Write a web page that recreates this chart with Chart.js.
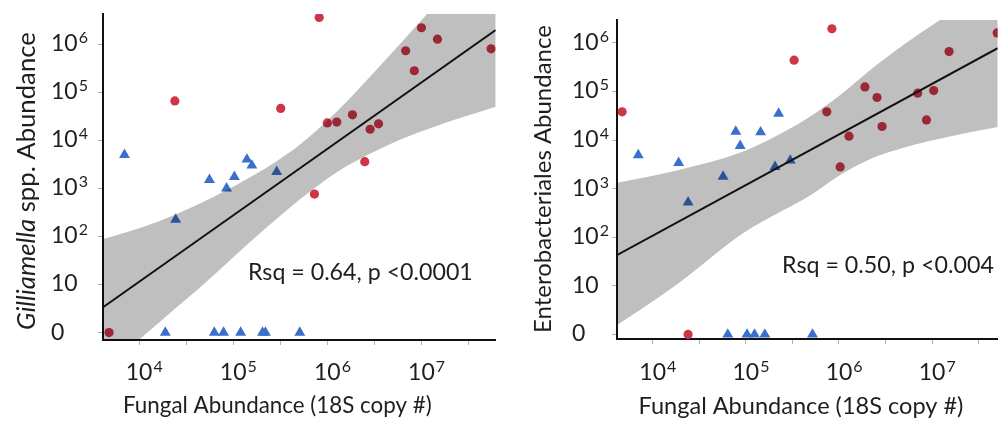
<!DOCTYPE html>
<html>
<head>
<meta charset="utf-8">
<script src="https://cdn.jsdelivr.net/npm/chart.js@4.4.1/dist/chart.umd.min.js"></script>
<style>
  body { margin: 0; background: #fff; }
  .panel { position: absolute; top: 0; width: 502px; height: 421px; }
</style>
</head>
<body>
<div class="panel" style="left:0"><canvas id="chartGilliamella" width="502" height="421"></canvas></div>
<div class="panel" style="left:502px"><canvas id="chartEntero" width="502" height="421"></canvas></div>
<script>
// Fungal abundance vs bacterial abundance, two log-log panels

// ticks shared by both panels
const xTickValues = [1e4, 3.162e4, 1e5, 3.162e5, 1e6, 3.162e6, 1e7, 3.162e7];
const xTickLabels = ['10^4', '', '10^5', '', '10^6', '', '10^7', ''];
const yTickValues = [1, 10, 100, 1e3, 1e4, 1e5, 1e6];
const yTickLabels = ['0', '10', '10^2', '10^3', '10^4', '10^5', '10^6'];

// left panel - Gilliamella
const gilRedX  = [4.8e3, 2.4e4, 3.2e5, 7.3e5, 8.2e5, 1.0e6, 1.26e6, 1.85e6, 2.5e6, 2.85e6, 3.5e6, 6.8e6, 8.4e6, 1.0e7, 1.48e7, 5.5e7];
const gilRedY  = [0, 6.6e4, 4.6e4, 760, 3.6e6, 2.3e4, 2.4e4, 3.4e4, 3.6e3, 1.7e4, 2.2e4, 7.3e5, 2.8e5, 2.2e6, 1.27e6, 8.0e5];
const gilBlueX = [7.0e3, 2.45e4, 5.6e4, 8.5e4, 1.03e5, 1.4e5, 1.58e5, 2.9e5, 1.9e4, 6.3e4, 7.9e4, 1.2e5, 2.05e5, 2.2e5, 5.1e5];
const gilBlueY = [5.0e3, 225, 1.5e3, 1.0e3, 1.74e3, 4.0e3, 3.0e3, 2.2e3, 0, 0, 0, 0, 0, 0, 0];
const gilFitX  = [4.11e3, 6.15e7];
const gilFitY  = [3.33, 1.98e6];
const gilBandX  = [4.11e3, 1.02e4, 2.44e4, 4.38e4, 8.43e4, 1.48e5, 2.92e5, 4.98e5, 1.32e6, 3.48e6, 9.2e6, 2.43e7, 6.18e7];
const gilBandHi = [87, 149, 286, 479, 914, 1.67e3, 3.72e3, 7.76e3, 4.33e4, 3.22e5, 2.64e6, 2.16e7, 1.6e8];
const gilBandLo = [0.167, 0.733, 3.2, 8.5, 27, 74, 235, 565, 2.3e3, 6.4e3, 1.45e4, 2.82e4, 5.0e4];

// right panel - Enterobacteriales
const entRedX  = [4.7e3, 2.4e4, 3.3e5, 7.4e5, 8.4e5, 1.03e6, 1.28e6, 1.9e6, 2.56e6, 2.9e6, 7.0e6, 8.7e6, 1.04e7, 1.52e7, 5.0e7];
const entRedY  = [3.8e4, 0, 4.4e5, 3.8e4, 1.95e6, 2.8e3, 1.2e4, 1.24e5, 7.5e4, 1.9e4, 9.2e4, 2.6e4, 1.04e5, 6.6e5, 1.6e6];
const entBlueX = [7.0e3, 1.9e4, 2.4e4, 5.7e4, 7.8e4, 8.7e4, 1.44e5, 2.06e5, 2.25e5, 3.0e5, 6.4e4, 1.03e5, 1.24e5, 1.6e5, 5.2e5];
const entBlueY = [4.9e3, 3.4e3, 525, 1.77e3, 1.5e4, 7.6e3, 1.45e4, 2.8e3, 3.5e4, 3.8e3, 0, 0, 0, 0, 0];
const entFitX  = [4.17e3, 5.06e7];
const entFitY  = [43.3, 7.76e5];
const entBandX  = [4.17e3, 1.91e4, 9.08e4, 2.02e5, 4.62e5, 1.03e6, 2.30e6, 5.26e6, 1.17e7, 2.62e7, 5.1e7];
const entBandHi = [1.33e3, 2.43e3, 5.69e3, 1.16e4, 2.85e4, 8.47e4, 3.05e5, 9.95e5, 2.82e6, 7.28e6, 1.55e7];
const entBandLo = [1.57, 11.5, 117, 288, 675, 1.91e3, 4.29e3, 7.21e3, 1.05e4, 1.47e4, 1.86e4];

const FONT = 'Lato, "Open Sans", sans-serif';
const INK = '#1e1e1e';
const ZERO_AT = 1; // zero counts sit on the 10^0 line, labelled "0"

function toPts(xs, ys, zeroMap) {
  return xs.map((x, i) => ({ x, y: (zeroMap && ys[i] === 0) ? ZERO_AT : ys[i] }));
}

// "10^5" -> "10" + small raised exponent
function drawPow(ctx, text, x, y, centerBase) {
  const parts = text.split('^');
  ctx.font = `23px ${FONT}`;
  const wb = ctx.measureText(parts[0]).width;
  const x0 = centerBase ? x - wb / 2 : x;
  ctx.textAlign = 'left';
  ctx.textBaseline = 'alphabetic';
  ctx.fillText(parts[0], x0, y);
  if (parts[1]) {
    ctx.font = `16px ${FONT}`;
    ctx.fillText(parts[1], x0 + wb + 1, y - 8);
  }
}

// text runs [[str, italic]] drawn so their total width = target
function drawRuns(ctx, runs, cx, cy, target) {
  const widthAt = size => runs.reduce((w, [s, it]) => {
    ctx.font = `${it ? 'italic ' : ''}${size}px ${FONT}`;
    return w + ctx.measureText(s).width;
  }, 0);
  const size = 22 * target / widthAt(22);
  let x = cx - target / 2;
  ctx.textAlign = 'left';
  ctx.textBaseline = 'middle';
  runs.forEach(([s, it]) => {
    ctx.font = `${it ? 'italic ' : ''}${size}px ${FONT}`;
    ctx.fillText(s, x, cy);
    x += ctx.measureText(s).width;
  });
}

function textPlugin(p) {
  return {
    id: 'panelText',
    afterDraw(chart) {
      const ctx = chart.ctx;
      const sx = chart.scales.x, sy = chart.scales.y;
      ctx.save();
      ctx.fillStyle = INK;
      yTickValues.forEach((v, i) => drawPow(ctx, yTickLabels[i], p.yLabelX, sy.getPixelForValue(v) + 7, false));
      xTickValues.forEach((v, i) => {
        if (xTickLabels[i]) drawPow(ctx, xTickLabels[i], sx.getPixelForValue(v), 380, true);
      });

      drawRuns(ctx, [['Fungal Abundance (18S copy #)', false]], p.xTitle[0], 406, p.xTitle[1]);

      ctx.save();
      ctx.translate(p.yTitle[0], p.yTitle[1]);
      ctx.rotate(-Math.PI / 2);
      drawRuns(ctx, p.yTitleRuns, 0, 0, p.yTitle[2]);
      ctx.restore();

      drawRuns(ctx, [[p.stat, false]], p.statPos[0], p.statPos[1], p.statPos[2]);
      ctx.restore();
    }
  };
}

function makePanel(id, d, p) {
  const axisBase = {
    type: 'logarithmic',
    ticks: { display: false },
    grid: { drawOnChartArea: false, drawTicks: true, tickLength: 5, color: '#b0b0b0', lineWidth: 1 },
    border: { color: '#111', width: 2 },
  };
  new Chart(document.getElementById(id), {
    type: 'scatter',
    data: {
      datasets: [
        { data: toPts(d.fitX, d.fitY), showLine: true, borderColor: '#111', borderWidth: 2, pointRadius: 0 },
        { data: toPts(d.bandX, d.bandHi), showLine: true, borderWidth: 0, pointRadius: 0,
          cubicInterpolationMode: 'monotone', fill: '+1', backgroundColor: 'rgba(0,0,0,0.25)' },
        { data: toPts(d.bandX, d.bandLo), showLine: true, borderWidth: 0, pointRadius: 0,
          cubicInterpolationMode: 'monotone' },
        { data: toPts(d.redX, d.redY, true), pointStyle: 'circle', pointRadius: 4.6,
          backgroundColor: '#d03447', borderWidth: 0 },
        { data: toPts(d.blueX, d.blueY, true), pointStyle: 'triangle', pointRadius: 6.3,
          backgroundColor: '#3b6fcc', borderWidth: 0 },
      ],
    },
    options: {
      responsive: false,
      animation: false,
      devicePixelRatio: 1,
      layout: { padding: { left: 0, right: p.padRight, top: p.padTop, bottom: 0 } },
      plugins: { legend: { display: false }, tooltip: { enabled: false } },
      scales: {
        x: { ...axisBase, min: p.xMin, max: p.xMax,
          afterBuildTicks: s => { s.ticks = xTickValues.map(v => ({ value: v })); },
          afterFit: s => { s.height = p.xAxisH; } },
        y: { ...axisBase, min: p.yMin, max: p.yMax,
          afterBuildTicks: s => { s.ticks = yTickValues.map(v => ({ value: v })); },
          afterFit: s => { s.width = p.yAxisW; } },
      },
    },
    plugins: [textPlugin(p)],
  });
}

makePanel('chartGilliamella',
  { redX: gilRedX, redY: gilRedY, blueX: gilBlueX, blueY: gilBlueY, fitX: gilFitX, fitY: gilFitY,
    bandX: gilBandX, bandHi: gilBandHi, bandLo: gilBandLo },
  { xMin: 4.11e3, xMax: 6.15e7, yMin: 0.733, yMax: 4.25e6,
    padTop: 14, padRight: 3.7, yAxisW: 102.7, xAxisH: 81,
    yLabelX: 51, xTitle: [277.5, 309], yTitle: [27, 181, 298],
    yTitleRuns: [['Gilliamella', true], [' spp. Abundance', false]],
    stat: 'Rsq = 0.64, p <0.0001', statPos: [360.5, 273, 225] });

makePanel('chartEntero',
  { redX: entRedX, redY: entRedY, blueX: entBlueX, blueY: entBlueY, fitX: entFitX, fitY: entFitY,
    bandX: entBandX, bandHi: entBandHi, bandLo: entBandLo },
  { xMin: 4.17e3, xMax: 5.06e7, yMin: 0.807, yMax: 2.95e6,
    padTop: 20, padRight: 0, yAxisW: 115.3, xAxisH: 82,
    yLabelX: 70, xTitle: [299, 325], yTitle: [41, 179, 308],
    yTitleRuns: [['Enterobacteriales Abundance', false]],
    stat: 'Rsq = 0.50, p <0.004', statPos: [386, 265, 212] });
</script>
</body>
</html>
